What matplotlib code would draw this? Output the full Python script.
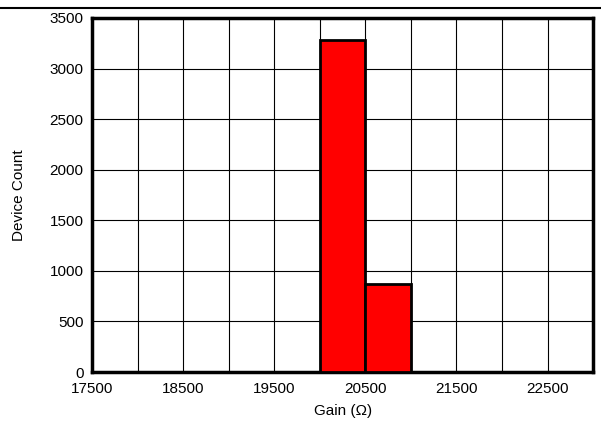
import matplotlib
matplotlib.use('Agg')
import matplotlib.pyplot as plt
from matplotlib.lines import Line2D

plt.rcParams['font.family'] = ['Liberation Sans', 'DejaVu Sans']

# histogram data
bin_edges = [20000, 20500, 21000]
counts = [3283, 870]
xticks = [17500, 18500, 19500, 20500, 21500, 22500]
yticks = [0, 500, 1000, 1500, 2000, 2500, 3000, 3500]

fig = plt.figure(figsize=(6.01, 4.24), dpi=100)
ax = fig.add_axes([0.153, 0.1226, 0.834, 0.835])

ax.bar(bin_edges[:-1], counts, width=500, align='edge',
       color='#ff0000', edgecolor='black', linewidth=2, zorder=3)

ax.set_xlim(17500, 23000)
ax.set_ylim(0, 3500)
ax.set_xticks(xticks)
ax.set_xticks(range(17500, 23001, 500), minor=True)
ax.set_yticks(yticks)
ax.grid(True, which='both', color='black', linewidth=0.8, zorder=0)
ax.tick_params(which='both', length=0, labelsize=11)
ax.tick_params(axis='x', pad=7)
ax.tick_params(axis='y', pad=6)
for s in ax.spines.values():
    s.set_linewidth(2.5)
ax.set_xlabel('Gain (Ω)', fontsize=11, labelpad=6)
ax.set_ylabel('Device Count', fontsize=11, labelpad=17)

fig.add_artist(Line2D([0, 1], [0.981, 0.981], transform=fig.transFigure,
                      color='black', linewidth=1.5))

fig.savefig('out.png', dpi=100)
